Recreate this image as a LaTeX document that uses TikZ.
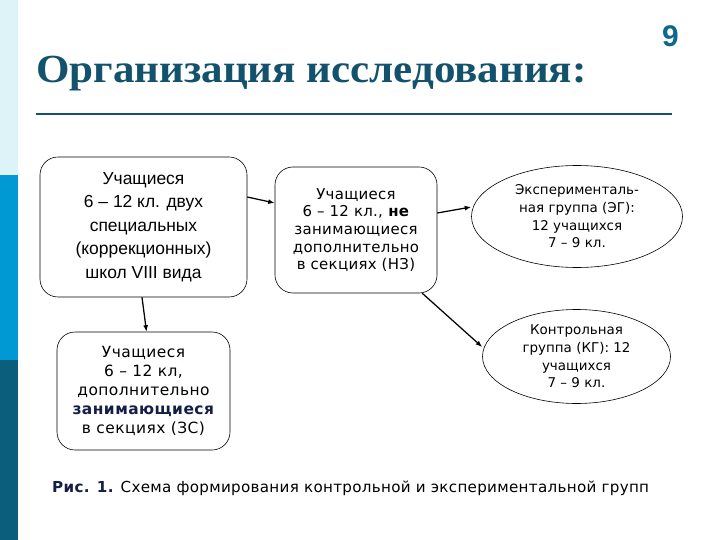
\documentclass[tikz,border=0pt]{standalone}
\usepackage{fontspec}
\setmainfont{Liberation Serif}
\newfontfamily\titlef[FakeStretch=1.08]{Liberation Serif}
\newfontfamily\arialf{Liberation Sans}
\newfontfamily\verdf{DejaVu Sans}
\newfontfamily\verdtwo[LetterSpace=2]{DejaVu Sans}
\newfontfamily\verdthree[LetterSpace=3]{DejaVu Sans}
\usetikzlibrary{arrows.meta,shapes.geometric}
\definecolor{stripA}{RGB}{221,243,248}
\definecolor{stripB}{RGB}{0,153,212}
\definecolor{stripC}{RGB}{11,94,124}
\definecolor{titlec}{RGB}{18,82,108}
\definecolor{numc}{RGB}{12,104,140}
\definecolor{navy}{RGB}{20,30,70}
\tikzset{
  rbox/.style={draw=black, line width=0.6pt, rounded corners=18bp, align=center, inner sep=0pt},
  oval/.style={draw=black, line width=0.6pt, ellipse, align=center, inner sep=0pt},
  arr/.style={-{Latex[length=6.5bp,width=5bp]}, line width=1.25bp, black},
  boxtextA/.style={font=\arialf\fontsize{17.5}{23.5}\selectfont},
  boxtextB/.style={font=\verdtwo\fontsize{15}{17.75}\selectfont},
  boxtextC/.style={font=\verdthree\fontsize{15.5}{19}\selectfont},
  ovaltext/.style={font=\verdf\fontsize{13.5}{17.75}\selectfont},
}
\begin{document}
\begin{tikzpicture}[x=1bp,y=-1bp]
\useasboundingbox (0,0) rectangle (720,540);
\fill[white] (0,0) rectangle (720,540);
% left strip
\fill[stripA] (0,0) rectangle (18,175);
\fill[stripB] (0,175) rectangle (18,360);
\fill[stripC] (0,360) rectangle (18,540);
% title
\node[anchor=base west, inner sep=0pt, text=titlec, font=\titlef\bfseries\fontsize{40}{44}\selectfont] (title) at (36,83) {Организация исследования:};
\node[anchor=center, inner sep=0pt, text=numc, font=\arialf\bfseries\fontsize{30}{34}\selectfont] (num) at (670.5,36) {9};
\coordinate (ruleL) at (36,114);
\coordinate (ruleR) at (672,114);
\draw[titlec, line width=2.5bp] (ruleL) -- (ruleR);
% boxes
\node[rbox, minimum width=207bp, minimum height=140bp, boxtextA] (b1) at (143.5,227) {Учащиеся\\6 – 12 кл. двух\\специальных\\(коррекционных)\\школ VIII вида};
\node[rbox, minimum width=162bp, minimum height=126bp, boxtextB] (b2) at (356,230) {Учащиеся\\6 – 12 кл., \textbf{не}\\занимающиеся\\дополнительно\\в секциях (НЗ)};
\node[rbox, minimum width=173bp, minimum height=118bp, boxtextC] (b3) at (143.5,391) {Учащиеся\\6 – 12 кл,\\дополнительно\\\textcolor{navy}{\textbf{занимающиеся}}\\в секциях (ЗС)};
\node[oval, minimum width=211bp, minimum height=102bp, ovaltext] (e1) at (577,216.5) {Эксперименталь-\\ная группа (ЭГ):\\12 учащихся\\7 – 9 кл.};
\node[oval, minimum width=188bp, minimum height=94bp, ovaltext] (e2) at (576.5,356.5) {Контрольная\\группа (КГ): 12\\учащихся\\7 – 9 кл.};
% arrows
\draw[arr] (b1.east |- 0,197) -- (b2.west |- 0,203);
\draw[arr] ([xshift=-1.5bp]b1.south) -- ([xshift=3bp]b3.north);
\draw[arr] (b2.east |- 0,213) -- (e1.west |- 0,207);
\draw[arr] ([xshift=-15bp]b2.south east) -- (e2.west |- 0,347);
% caption
\node[anchor=base west, inner sep=0pt, font=\verdtwo\fontsize{15.2}{18}\selectfont] (cap) at (52,492) {\textcolor{navy}{\textbf{Рис. 1.}} Схема формирования контрольной и экспериментальной групп};
\end{tikzpicture}
\end{document}
